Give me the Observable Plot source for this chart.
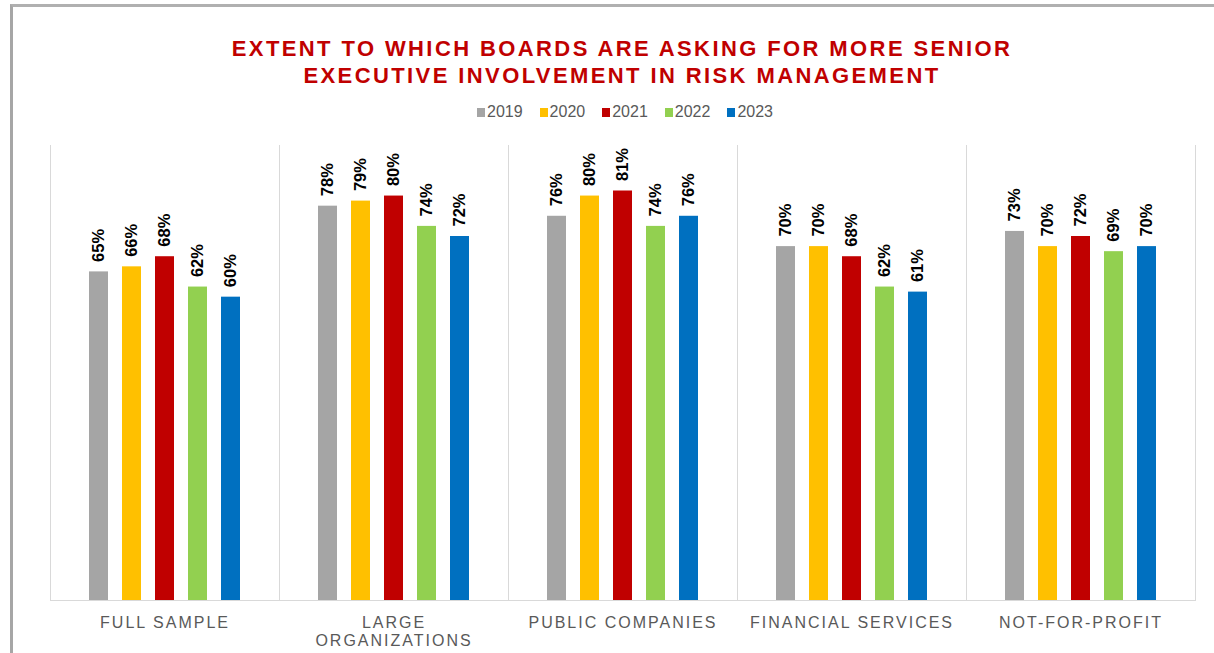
<!DOCTYPE html>
<html>
<head>
<meta charset="utf-8">
<script src="https://cdn.jsdelivr.net/npm/d3@7"></script>
<script src="https://cdn.jsdelivr.net/npm/@observablehq/plot@0.6"></script>
<style>
  html, body { margin: 0; padding: 0; background: #fff; }
  body { width: 1214px; height: 653px; position: relative; overflow: hidden; font-family: "Liberation Sans", Arial, sans-serif; }
  #border { position: absolute; z-index: 5; left: 10px; top: 4px; width: 1300px; height: 700px; border-left: 3px solid #a6a6a6; border-top: 3px solid #b0b0b0; pointer-events: none; }
  #title { position: absolute; left: 0; width: 1244px; top: 35px; text-align: center; color: #c00000; font-weight: bold; font-size: 22px; line-height: 27px; letter-spacing: 2.4px; }
  #legend { position: absolute; left: 0; width: 1250px; top: 102px; height: 20px; display: flex; justify-content: center; align-items: center; gap: 17px; color: #595959; font-size: 16px; line-height: 20px; }
  #legend .item { display: flex; align-items: center; }
  #legend .sw { width: 8px; height: 9px; margin-right: 2px; }
  #chart { position: absolute; left: 0; top: 130px; }
  g[aria-label="fx-axis tick label"] { letter-spacing: 2px; }
</style>
</head>
<body>
<div id="border"></div>
<div id="title">EXTENT TO WHICH BOARDS ARE ASKING FOR MORE SENIOR<br>EXECUTIVE INVOLVEMENT IN RISK MANAGEMENT</div>
<div id="legend"></div>
<div id="chart"></div>
<script>
const categories = ["FULL SAMPLE", "LARGE ORGANIZATIONS", "PUBLIC COMPANIES", "FINANCIAL SERVICES", "NOT-FOR-PROFIT"];
const years = ["2019", "2020", "2021", "2022", "2023"];
const colors = ["#a5a5a5", "#ffc000", "#c00000", "#92d050", "#0070c0"];
const values2019 = [65, 78, 76, 70, 73];
const values2020 = [66, 79, 80, 70, 70];
const values2021 = [68, 80, 81, 68, 72];
const values2022 = [62, 74, 74, 62, 69];
const values2023 = [60, 72, 76, 61, 70];
const categoryLabels = ["FULL SAMPLE", "LARGE\nORGANIZATIONS", "PUBLIC COMPANIES", "FINANCIAL SERVICES", "NOT-FOR-PROFIT"];

const series = [values2019, values2020, values2021, values2022, values2023];
const data = [];
categories.forEach((c, i) => {
  years.forEach((y, j) => {
    data.push({category: c, year: y, value: series[j][i] / 100});
  });
});

// legend
const legend = document.getElementById("legend");
years.forEach((y, j) => {
  const item = document.createElement("div");
  item.className = "item";
  const sw = document.createElement("span");
  sw.className = "sw";
  sw.style.background = colors[j];
  const t = document.createElement("span");
  t.textContent = y;
  item.appendChild(sw);
  item.appendChild(t);
  legend.appendChild(item);
});

const labelFor = Object.fromEntries(categories.map((c, i) => [c, categoryLabels[i]]));

const plot = Plot.plot({
  width: 1214,
  height: 523,
  marginLeft: 48,
  marginRight: 17,
  marginTop: 15,
  marginBottom: 53,
  style: {background: "#fff", fontFamily: "'Liberation Sans', Arial, sans-serif", overflow: "visible"},
  fx: {domain: categories, padding: 0},
  x: {domain: years, paddingInner: 0.433, paddingOuter: 1.15, axis: null},
  y: {domain: [0, 0.9], axis: null},
  color: {domain: years, range: colors},
  marks: [
    Plot.frame({anchor: "left", stroke: "#d9d9d9"}),
    Plot.frame({anchor: "right", stroke: "#d9d9d9"}),
    Plot.ruleY([0], {stroke: "#d9d9d9"}),
    Plot.barY(data, {fx: "category", x: "year", y: "value", fill: "year"}),
    Plot.text(data, {
      fx: "category", x: "year", y: "value",
      text: d => Math.round(d.value * 100) + "%",
      rotate: -90, textAnchor: "start", lineAnchor: "middle", dy: -10,
      fontSize: 16.5, fontWeight: "bold",
      fontFamily: "'Liberation Sans', Arial, sans-serif",
      fill: "#000"
    }),
    Plot.axisFx({
      anchor: "bottom", tickSize: 0, tickPadding: 14, fontSize: 16, lineHeight: 1.15,
      tickFormat: d => labelFor[d], fill: "#595959", label: null
    })
  ]
});
document.getElementById("chart").appendChild(plot);
</script>
</body>
</html>
